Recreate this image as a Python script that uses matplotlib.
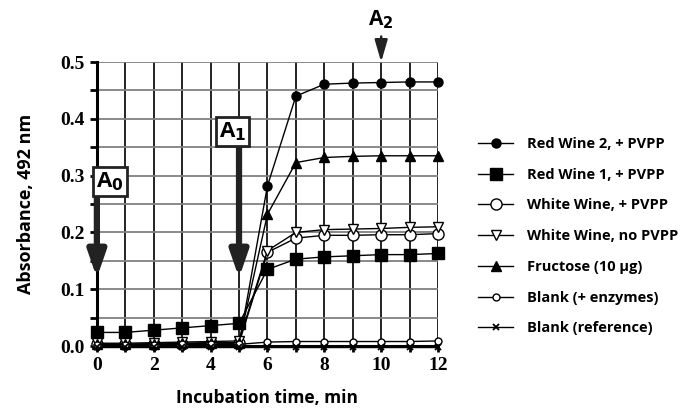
import matplotlib
matplotlib.use('Agg')
import matplotlib.pyplot as plt
from matplotlib.ticker import MultipleLocator

time_min = [0, 1, 2, 3, 4, 5, 6, 7, 8, 9, 10, 11, 12]

red_wine_2 = [0.002, 0.002, 0.002, 0.002, 0.003, 0.003, 0.282, 0.440, 0.461, 0.463, 0.464, 0.465, 0.465]
red_wine_1 = [0.024, 0.024, 0.028, 0.032, 0.036, 0.040, 0.135, 0.153, 0.157, 0.159, 0.161, 0.161, 0.163]
white_pvpp = [0.004, 0.003, 0.004, 0.004, 0.005, 0.005, 0.165, 0.190, 0.195, 0.195, 0.196, 0.196, 0.198]
white_no_pvpp = [0.005, 0.005, 0.006, 0.007, 0.008, 0.009, 0.168, 0.200, 0.205, 0.206, 0.207, 0.209, 0.210]
fructose = [0.003, 0.003, 0.004, 0.005, 0.006, 0.006, 0.232, 0.323, 0.332, 0.334, 0.335, 0.335, 0.335]
blank_enz = [0.002, 0.002, 0.002, 0.003, 0.003, 0.003, 0.007, 0.008, 0.008, 0.008, 0.008, 0.008, 0.009]
blank_ref = [-0.002, -0.002, -0.002, -0.002, -0.002, -0.002, -0.002, -0.002, -0.002, -0.002, -0.002, -0.002, -0.002]

labels = ['Red Wine 2, + PVPP', 'Red Wine 1, + PVPP', 'White Wine, + PVPP',
          'White Wine, no PVPP', 'Fructose (10 \u03bcg)', 'Blank (+ enzymes)',
          'Blank (reference)']

plt.rcParams['mathtext.fontset'] = 'dejavusans'
sans = ['Open Sans', 'DejaVu Sans']
serif = 'Liberation Serif'

fig = plt.figure(figsize=(6.87, 4.11), dpi=100)
ax = fig.add_axes([0.141, 0.158, 0.4966, 0.691])

series = [
    (red_wine_2, dict(marker='o', ms=6.5, mfc='black')),
    (red_wine_1, dict(marker='s', ms=8.5, mfc='black')),
    (white_pvpp, dict(marker='o', ms=8, mfc='white')),
    (white_no_pvpp, dict(marker='v', ms=6.5, mfc='white')),
    (fructose, dict(marker='^', ms=6.5, mfc='black')),
    (blank_enz, dict(marker='o', ms=5, mfc='white')),
    (blank_ref, dict(marker='x', ms=5, mew=1.3)),
]
for vals, st in series:
    st.setdefault('mew', 1.0)
    ax.plot(time_min, vals, color='black', lw=1.0, mec='black', clip_on=False, zorder=4, **st)

ax.set_xlim(0, 12)
ax.set_ylim(0, 0.5)
ax.xaxis.set_major_locator(MultipleLocator(2))
ax.xaxis.set_minor_locator(MultipleLocator(1))
ax.yaxis.set_major_locator(MultipleLocator(0.1))
ax.yaxis.set_minor_locator(MultipleLocator(0.05))
ax.yaxis.set_major_formatter(plt.FuncFormatter(lambda v, p: f'{v:.1f}'))

ax.grid(axis='y', which='both', color='#808080', lw=1.3, zorder=1)
ax.grid(axis='x', which='both', color='#111111', lw=1.3, zorder=1)
ax.set_axisbelow(True)
for s in ['top', 'right']:
    ax.spines[s].set_visible(False)
ax.spines['left'].set_linewidth(2.2)
ax.spines['bottom'].set_linewidth(2.2)
ax.tick_params(which='both', direction='out', width=2, length=5, pad=4)
ax.tick_params(axis='x', which='both', length=4)

for lab in ax.get_xticklabels() + ax.get_yticklabels():
    lab.set_fontfamily(serif)
    lab.set_fontweight('bold')
    lab.set_fontsize(14)

ax.set_xlabel('Incubation time, min', family=sans, weight='bold', fontsize=12.5, labelpad=11)
ax.set_ylabel('Absorbance, 492 nm', family=sans, weight='bold', fontsize=13, labelpad=18)

# A0 / A1 arrows with boxed labels
arrow_kw = dict(arrowstyle='-|>,head_width=0.45,head_length=1.3', lw=4.5, color='#222222',
                shrinkA=0, shrinkB=0, mutation_scale=12)
ax.annotate('', xy=(0, 0.12), xytext=(0, 0.27), arrowprops=arrow_kw, annotation_clip=False, zorder=5)
ax.annotate('', xy=(5, 0.12), xytext=(5, 0.35), arrowprops=arrow_kw, annotation_clip=False, zorder=5)
box = dict(boxstyle='square,pad=0.14', fc='white', ec='#222222', lw=2)
ax.text(0.45, 0.29, r'A$_\mathbf{0}$', family=sans, weight='bold', fontsize=16,
        ha='center', va='center', bbox=box, zorder=6, clip_on=False)
ax.text(4.78, 0.378, r'A$_\mathbf{1}$', family=sans, weight='bold', fontsize=16,
        ha='center', va='center', bbox=box, zorder=6, clip_on=False)

# A2 arrow above the plot
ax.annotate('', xy=(10, 0.5), xytext=(10, 0.545),
            arrowprops=dict(arrowstyle='-|>,head_width=0.32,head_length=1.1', lw=1.8,
                            color='#222222', shrinkA=0, shrinkB=0, mutation_scale=12),
            annotation_clip=False, zorder=5)
ax.text(10, 0.555, r'A$_\mathbf{2}$', family=sans, weight='bold', fontsize=15,
        ha='center', va='bottom', clip_on=False)

leg = ax.legend(labels, loc='center left', bbox_to_anchor=(1.08, 0.387), frameon=False,
                prop=dict(family=sans, weight='bold', size=10.5), handlelength=2.4,
                handletextpad=0.9, labelspacing=1.15)

fig.savefig('out.png', dpi=100)
